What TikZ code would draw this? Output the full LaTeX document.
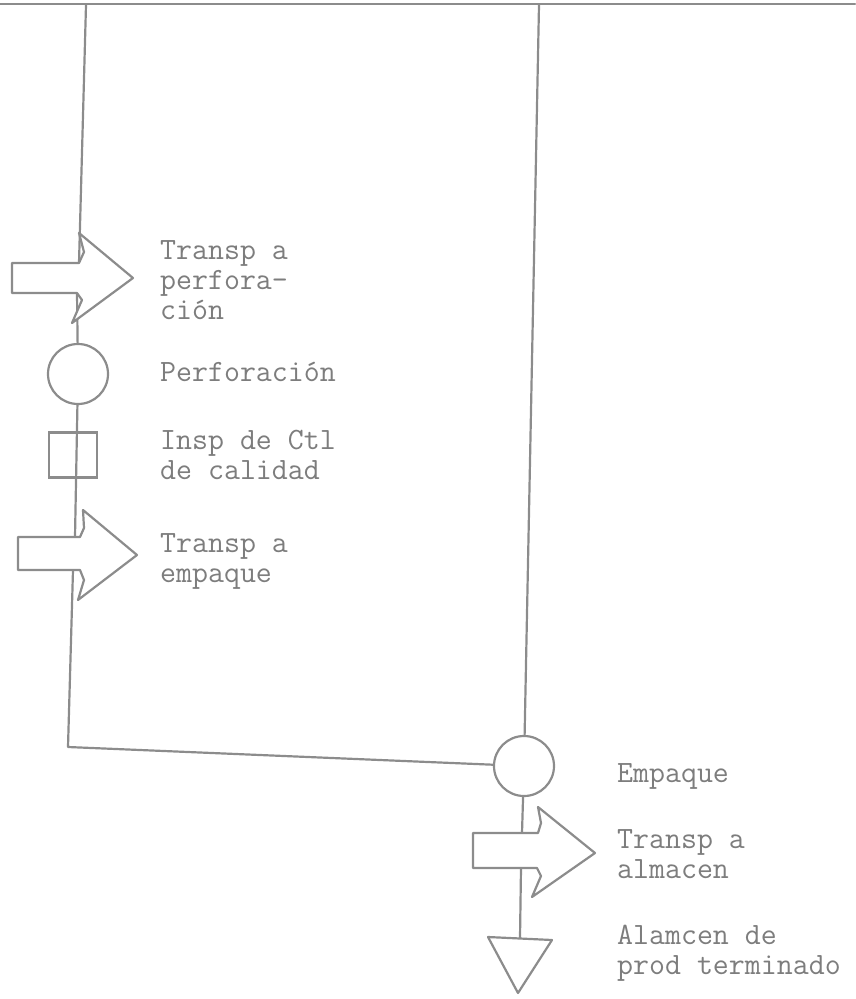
\documentclass[tikz,border=0pt]{standalone}
\usetikzlibrary{calc}
\definecolor{ink}{RGB}{140,140,140}
\definecolor{typeink}{RGB}{125,125,125}
\begin{document}
\begin{tikzpicture}[x=1pt,y=-1pt,
  flowline/.style={draw=ink,line width=2.2pt,line cap=round,line join=round},
  opnode/.style={circle,draw=ink,line width=2.2pt,minimum size=60pt,inner sep=0pt,fill=white},
  inspnode/.style={rectangle,draw=ink,line width=2.2pt,minimum width=48pt,minimum height=45pt,inner sep=0pt},
  moveshape/.style={draw=ink,line width=2.2pt,line join=round,fill=white},
  storeshape/.style={draw=ink,line width=2.2pt,line join=round,fill=white},
  steptext/.style={anchor=west,inner sep=0pt,align=left,text=typeink,
    font=\ttfamily\fontsize{31}{30}\selectfont}]
  \useasboundingbox (0,0) rectangle (855,999);

  % frame edge and column rules
  \coordinate (edgeW) at (0,4);
  \coordinate (edgeE) at (855,4);
  \coordinate (topL) at (86,5);
  \coordinate (topR) at (539,5);
  \coordinate (cornerL) at (68,747);

  % process symbols
  \node[opnode] (perf) at (78,374) {};
  \node[inspnode] (insp) at (73,455) {};
  \node[opnode] (emp) at (524,766) {};

  % stem points where the transport arrows meet the flow line
  \coordinate (a1n) at (79,263);
  \coordinate (a1s) at (77,293);
  \coordinate (a2n) at (75,537);
  \coordinate (a2s) at (73,570);
  \coordinate (a3n) at (522,833);
  \coordinate (a3s) at (521,868);
  \coordinate (alm) at (520,938);

  % flow lines
  \draw[flowline] (edgeW) -- (edgeE);
  \draw[flowline] (topL) -- (a1n);
  \draw[flowline] (a1s) -- (perf);
  \draw[flowline] (perf) -- (a2n);
  \draw[flowline] (a2s) -- (cornerL) -- (emp);
  \draw[flowline] (topR) -- (emp);
  \draw[flowline] (emp) -- (a3n);
  \draw[flowline] (a3s) -- (alm);

  % transport arrows
  \draw[moveshape] (12,263) -- (a1n) -- (84,252) -- (79,233) -- (133,278)
    -- (72,323) -- (82,300) -- (a1s) -- (12,293) -- cycle;
  \draw[moveshape] (18,537) -- (80,537) -- (84,528) -- (83,510) -- (137,555)
    -- (78,600) -- (84,580) -- (80,570) -- (18,570) -- cycle;
  \draw[moveshape] (473,833) -- (538,833) -- (541,823) -- (538,807) -- (595,853)
    -- (532,897) -- (541,876) -- (537,868) -- (473,868) -- cycle;

  % storage triangle
  \draw[storeshape] (488,937) -- (552,940) -- (518,993) -- cycle;

  % step labels
  \node[steptext] (t1) at (160,280) {Transp a\\perfora-\\ción};
  \node[steptext] (t2) at (160,372) {Perforación};
  \node[steptext] (t3) at (160,455) {Insp de Ctl\\de calidad};
  \node[steptext] (t4) at (160,561) {Transp a\\empaque};
  \node[steptext] (t5) at (617,776) {Empaque};
  \node[steptext] (t6) at (617,854) {Transp a\\almacen};
  \node[steptext] (t7) at (617,953) {Alamcen de\\prod terminado};
\end{tikzpicture}
\end{document}
